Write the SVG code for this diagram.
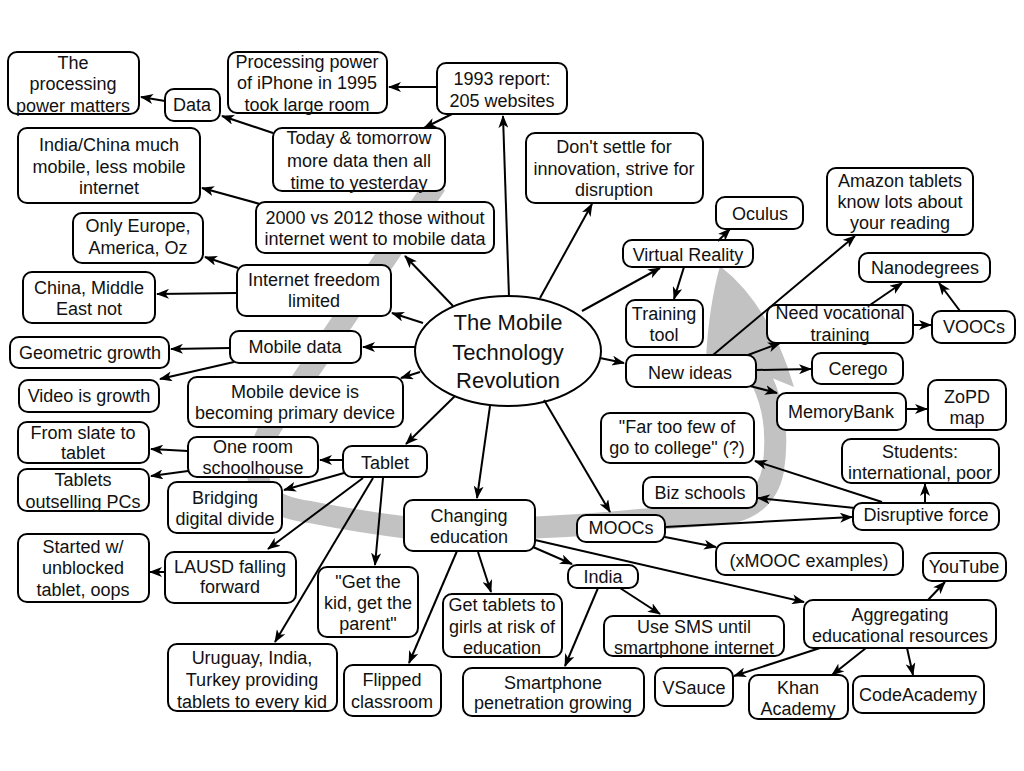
<svg xmlns="http://www.w3.org/2000/svg" width="1024" height="771" viewBox="0 0 1024 771">
<style>
.n rect{fill:#fff;stroke:#000;stroke-width:2}
.n ellipse{fill:#fff;stroke:#000;stroke-width:2}
text{font-family:"Liberation Sans",Arial,sans-serif;font-size:18px;text-anchor:middle;fill:#111}
.big{font-size:22px}
#connectors line{stroke:#000;stroke-width:2;fill:none;marker-end:url(#ah)}
.band{fill:none;stroke:#c2c2c2;stroke-width:22}
.bandhead{fill:#c2c2c2}
</style>
<defs>
<marker id="ah" markerUnits="userSpaceOnUse" markerWidth="13" markerHeight="10" viewBox="0 0 13 10" refX="12" refY="5" orient="auto">
<path d="M0,0 L13,5 L0,10 L3.5,5 Z" fill="#000"/>
</marker>
</defs>
<rect width="1024" height="771" fill="#fff"/>
<g id="flow-band">
<path class="band" d="M436,184 L272,425 Q250,462 262,490 Q275,508 310,512 Q360,522 410,528 Q520,532 640,520 L720,514 Q765,510 773,470 Q780,425 766,390 L754,362"/>
<path class="bandhead" d="M720,266 Q770,305 794,387 L752,370 L706,358 Q709,305 720,266 Z"/>
</g>
<g id="n-processing-matters" class="n"><rect x="8" y="52" width="131" height="62" rx="9"/><text x="73" y="69">The</text><text x="73" y="90">processing</text><text x="73" y="112">power matters</text></g>
<g id="n-data" class="n"><rect x="165" y="89" width="55" height="32" rx="9"/><text x="192" y="111">Data</text></g>
<g id="n-iphone" class="n"><rect x="228" y="52" width="159" height="61" rx="9"/><text x="307" y="68">Processing power</text><text x="307" y="89">of iPhone in 1995</text><text x="307" y="111">took large room</text></g>
<g id="n-1993" class="n"><rect x="437" y="63" width="130" height="51" rx="9"/><text x="502" y="85">1993 report:</text><text x="502" y="107">205 websites</text></g>
<g id="n-today" class="n"><rect x="273" y="128" width="172" height="63" rx="9"/><text x="359" y="144">Today &amp; tomorrow</text><text x="359" y="167">more data then all</text><text x="359" y="189">time to yesterday</text></g>
<g id="n-indiachina" class="n"><rect x="18" y="128" width="182" height="75" rx="9"/><text x="109" y="151">India/China much</text><text x="109" y="173">mobile, less mobile</text><text x="109" y="194">internet</text></g>
<g id="n-2000" class="n"><rect x="256" y="202" width="238" height="51" rx="9"/><text x="375" y="224">2000 vs 2012 those without</text><text x="375" y="245">internet went to mobile data</text></g>
<g id="n-europe" class="n"><rect x="73" y="213" width="130" height="50" rx="9"/><text x="138" y="232">Only Europe,</text><text x="138" y="254">America, Oz</text></g>
<g id="n-freedom" class="n"><rect x="237" y="265" width="154" height="51" rx="9"/><text x="314" y="286">Internet freedom</text><text x="314" y="307">limited</text></g>
<g id="n-china" class="n"><rect x="23" y="272" width="132" height="51" rx="9"/><text x="89" y="294">China, Middle</text><text x="89" y="315">East not</text></g>
<g id="n-mobiledata" class="n"><rect x="230" y="331" width="131" height="32" rx="9"/><text x="295" y="353">Mobile data</text></g>
<g id="n-geometric" class="n"><rect x="10" y="337" width="159" height="31" rx="9"/><text x="90" y="359">Geometric growth</text></g>
<g id="n-video" class="n"><rect x="19" y="380" width="140" height="32" rx="9"/><text x="89" y="402">Video is growth</text></g>
<g id="n-device" class="n"><rect x="188" y="377" width="215" height="50" rx="9"/><text x="295" y="398">Mobile device is</text><text x="295" y="419">becoming primary device</text></g>
<g id="n-center" class="n"><ellipse cx="508" cy="351" rx="93" ry="55"/><text class="big" x="508" y="330">The Mobile</text><text class="big" x="508" y="360">Technology</text><text class="big" x="508" y="388">Revolution</text></g>
<g id="n-slate" class="n"><rect x="18" y="422" width="131" height="41" rx="9"/><text x="83" y="439">From slate to</text><text x="83" y="459">tablet</text></g>
<g id="n-oneroom" class="n"><rect x="188" y="437" width="130" height="40" rx="9"/><text x="253" y="453">One room</text><text x="253" y="474">schoolhouse</text></g>
<g id="n-tablet" class="n"><rect x="343" y="446" width="84" height="31" rx="9"/><text x="385" y="469">Tablet</text></g>
<g id="n-outselling" class="n"><rect x="18" y="469" width="131" height="42" rx="9"/><text x="83" y="486">Tablets</text><text x="83" y="508">outselling PCs</text></g>
<g id="n-bridging" class="n"><rect x="168" y="482" width="114" height="51" rx="9"/><text x="225" y="504">Bridging</text><text x="225" y="525">digital divide</text></g>
<g id="n-started" class="n"><rect x="18" y="534" width="131" height="68" rx="9"/><text x="83" y="553">Started w/</text><text x="83" y="574">unblocked</text><text x="83" y="596">tablet, oops</text></g>
<g id="n-lausd" class="n"><rect x="165" y="552" width="131" height="51" rx="9"/><text x="230" y="573">LAUSD falling</text><text x="230" y="593">forward</text></g>
<g id="n-getkid" class="n"><rect x="318" y="567" width="100" height="70" rx="9"/><text x="368" y="588">"Get the</text><text x="368" y="609">kid, get the</text><text x="368" y="630">parent"</text></g>
<g id="n-uruguay" class="n"><rect x="168" y="644" width="169" height="67" rx="9"/><text x="252" y="664">Uruguay, India,</text><text x="252" y="686">Turkey providing</text><text x="252" y="708">tablets to every kid</text></g>
<g id="n-flipped" class="n"><rect x="344" y="665" width="97" height="51" rx="9"/><text x="392" y="686">Flipped</text><text x="392" y="708">classroom</text></g>
<g id="n-changing" class="n"><rect x="404" y="500" width="131" height="51" rx="9"/><text x="469" y="522">Changing</text><text x="469" y="543">education</text></g>
<g id="n-girls" class="n"><rect x="443" y="594" width="119" height="63" rx="9"/><text x="502" y="611">Get tablets to</text><text x="502" y="633">girls at risk of</text><text x="502" y="654">education</text></g>
<g id="n-india" class="n"><rect x="568" y="565" width="70" height="23" rx="9"/><text x="603" y="583">India</text></g>
<g id="n-smartphone" class="n"><rect x="463" y="668" width="181" height="48" rx="9"/><text x="553" y="689">Smartphone</text><text x="553" y="709">penetration growing</text></g>
<g id="n-sms" class="n"><rect x="604" y="616" width="180" height="40" rx="9"/><text x="694" y="633">Use SMS until</text><text x="694" y="654">smartphone internet</text></g>
<g id="n-moocs" class="n"><rect x="577" y="515" width="88" height="27" rx="9"/><text x="621" y="534">MOOCs</text></g>
<g id="n-xmooc" class="n"><rect x="716" y="543" width="187" height="32" rx="9"/><text x="809" y="567">(xMOOC examples)</text></g>
<g id="n-disruptive" class="n"><rect x="853" y="503" width="146" height="27" rx="9"/><text x="926" y="521">Disruptive force</text></g>
<g id="n-biz" class="n"><rect x="643" y="477" width="114" height="31" rx="9"/><text x="700" y="499">Biz schools</text></g>
<g id="n-fartoofew" class="n"><rect x="601" y="413" width="153" height="50" rx="9"/><text x="677" y="433">"Far too few of</text><text x="677" y="454">go to college" (?)</text></g>
<g id="n-students" class="n"><rect x="842" y="439" width="157" height="44" rx="9"/><text x="920" y="458">Students:</text><text x="920" y="479">international, poor</text></g>
<g id="n-youtube" class="n"><rect x="923" y="553" width="83" height="28" rx="9"/><text x="964" y="573">YouTube</text></g>
<g id="n-aggregating" class="n"><rect x="804" y="600" width="192" height="48" rx="9"/><text x="900" y="621">Aggregating</text><text x="900" y="642">educational resources</text></g>
<g id="n-vsauce" class="n"><rect x="655" y="668" width="78" height="38" rx="9"/><text x="694" y="694">VSauce</text></g>
<g id="n-khan" class="n"><rect x="749" y="675" width="99" height="44" rx="9"/><text x="798" y="694">Khan</text><text x="798" y="715">Academy</text></g>
<g id="n-codeacademy" class="n"><rect x="853" y="676" width="131" height="37" rx="9"/><text x="918" y="701">CodeAcademy</text></g>
<g id="n-dontsettle" class="n"><rect x="526" y="133" width="177" height="70" rx="9"/><text x="614" y="153">Don't settle for</text><text x="614" y="175">innovation, strive for</text><text x="614" y="196">disruption</text></g>
<g id="n-vr" class="n"><rect x="623" y="240" width="130" height="27" rx="9"/><text x="688" y="261">Virtual Reality</text></g>
<g id="n-oculus" class="n"><rect x="716" y="197" width="87" height="32" rx="9"/><text x="760" y="220">Oculus</text></g>
<g id="n-training" class="n"><rect x="626" y="300" width="77" height="47" rx="9"/><text x="664" y="320">Training</text><text x="664" y="341">tool</text></g>
<g id="n-newideas" class="n"><rect x="626" y="355" width="130" height="32" rx="9"/><text x="690" y="379">New ideas</text></g>
<g id="n-amazon" class="n"><rect x="827" y="168" width="146" height="67" rx="9"/><text x="900" y="187">Amazon tablets</text><text x="900" y="208">know lots about</text><text x="900" y="229">your reading</text></g>
<g id="n-nano" class="n"><rect x="859" y="253" width="131" height="29" rx="9"/><text x="925" y="274">Nanodegrees</text></g>
<g id="n-vocational" class="n"><rect x="767" y="305" width="146" height="38" rx="9"/><text x="840" y="319">Need vocational</text><text x="840" y="341">training</text></g>
<g id="n-voocs" class="n"><rect x="932" y="311" width="83" height="32" rx="9"/><text x="974" y="333">VOOCs</text></g>
<g id="n-cerego" class="n"><rect x="812" y="353" width="91" height="31" rx="9"/><text x="858" y="375">Cerego</text></g>
<g id="n-memorybank" class="n"><rect x="777" y="393" width="129" height="37" rx="9"/><text x="841" y="418">MemoryBank</text></g>
<g id="n-zopd" class="n"><rect x="928" y="380" width="78" height="50" rx="9"/><text x="967" y="403">ZoPD</text><text x="967" y="424">map</text></g>
<g id="connectors">
<line x1="509" y1="297" x2="503" y2="116"/>
<line x1="540" y1="298" x2="592" y2="204"/>
<line x1="582" y1="311" x2="660" y2="268"/>
<line x1="600" y1="358" x2="624" y2="363"/>
<line x1="544" y1="400" x2="610" y2="512"/>
<line x1="490" y1="406" x2="477" y2="498"/>
<line x1="455" y1="396" x2="406" y2="444"/>
<line x1="420" y1="372" x2="401" y2="378"/>
<line x1="415" y1="347" x2="363" y2="347"/>
<line x1="423" y1="323" x2="392" y2="313"/>
<line x1="453" y1="306" x2="405" y2="256"/>
<line x1="437" y1="87" x2="389" y2="87"/>
<line x1="452" y1="114" x2="424" y2="128"/>
<line x1="273" y1="133" x2="222" y2="116"/>
<line x1="165" y1="101" x2="141" y2="97"/>
<line x1="260" y1="204" x2="202" y2="188"/>
<line x1="238" y1="268" x2="205" y2="257"/>
<line x1="237" y1="293" x2="157" y2="294"/>
<line x1="230" y1="348" x2="171" y2="349"/>
<line x1="234" y1="362" x2="160" y2="379"/>
<line x1="343" y1="460" x2="320" y2="460"/>
<line x1="344" y1="473" x2="284" y2="490"/>
<line x1="363" y1="478" x2="268" y2="549"/>
<line x1="373" y1="478" x2="275" y2="642"/>
<line x1="383" y1="478" x2="375" y2="565"/>
<line x1="188" y1="451" x2="151" y2="449"/>
<line x1="188" y1="471" x2="151" y2="476"/>
<line x1="165" y1="572" x2="150" y2="572"/>
<line x1="457" y1="551" x2="409" y2="663"/>
<line x1="478" y1="552" x2="491" y2="592"/>
<line x1="533" y1="547" x2="572" y2="564"/>
<line x1="535" y1="540" x2="804" y2="602"/>
<line x1="620" y1="588" x2="660" y2="614"/>
<line x1="598" y1="588" x2="565" y2="666"/>
<line x1="665" y1="527" x2="852" y2="517"/>
<line x1="665" y1="537" x2="716" y2="547"/>
<line x1="882" y1="502" x2="755" y2="461"/>
<line x1="855" y1="508" x2="758" y2="498"/>
<line x1="925" y1="503" x2="925" y2="484"/>
<line x1="713" y1="355" x2="855" y2="236"/>
<line x1="748" y1="355" x2="780" y2="343"/>
<line x1="756" y1="370" x2="811" y2="369"/>
<line x1="750" y1="386" x2="777" y2="393"/>
<line x1="906" y1="409" x2="927" y2="409"/>
<line x1="718" y1="241" x2="730" y2="229"/>
<line x1="684" y1="267" x2="674" y2="299"/>
<line x1="870" y1="305" x2="902" y2="283"/>
<line x1="913" y1="325" x2="931" y2="325"/>
<line x1="960" y1="311" x2="939" y2="283"/>
<line x1="928" y1="600" x2="945" y2="582"/>
<line x1="820" y1="648" x2="734" y2="676"/>
<line x1="866" y1="648" x2="832" y2="675"/>
<line x1="907" y1="648" x2="913" y2="675"/>
</g>
</svg>
